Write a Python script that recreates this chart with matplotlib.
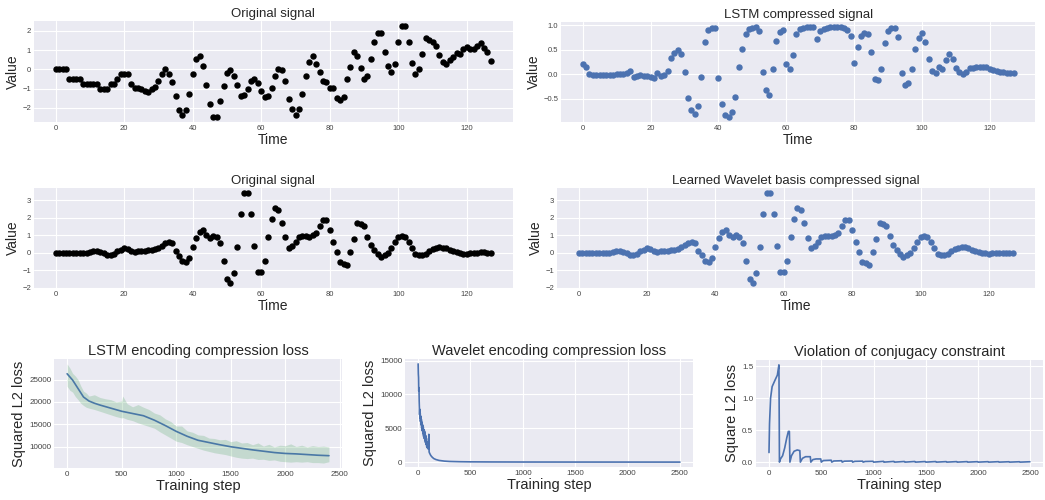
import numpy as np
import matplotlib
matplotlib.use("Agg")
import matplotlib.pyplot as plt

plt.style.use("seaborn-v0_8-darkgrid")
plt.rcParams['font.family'] = ['Liberation Sans', 'DejaVu Sans']

# ---- data ----
time = np.arange(128)

original_1 = [0, 0, 0, 0, -0.5, -0.5, -0.5, -0.5, -0.75, -0.75, -0.75, -0.75, -0.75, -1.0, -1.0, -1.0,
              -0.75, -0.75, -0.5, -0.25, -0.25, -0.25, -0.75, -0.97, -0.97, -1.0, -1.1, -1.2, -1.0, -0.9,
              -0.62, -0.25, 0.0, -0.25, -0.68, -1.38, -2.1, -2.4, -2.1, -1.3, -0.25, 0.55, 0.7, 0.2,
              -0.8, -1.8, -2.5, -2.5, -1.65, -0.85, -0.2, -0.05, -0.35, -0.8, -1.38, -1.35, -1.0, -0.62,
              -0.5, -0.72, -1.15, -1.42, -1.38, -0.95, -0.35, 0.03, -0.05, -0.62, -1.52, -2.08, -2.35,
              -2.08, -1.3, -0.35, 0.38, 0.68, 0.28, -0.12, -0.58, -0.68, -0.98, -0.98, -1.48, -1.6,
              -1.45, -0.48, 0.1, 0.9, 0.68, 0.05, -0.52, -0.32, 0.55, 1.42, 1.92, 1.88, 0.9, 0.18,
              -0.12, 0.28, 1.4, 2.28, 2.28, 1.45, 0.35, -0.22, 0.0, 0.8, 1.62, 1.55, 1.45, 1.22, 0.75,
              0.4, 0.28, 0.5, 0.65, 0.85, 0.78, 1.05, 1.18, 1.08, 1.08, 1.2, 1.35, 1.1, 0.88, 0.42]

lstm_signal = [0.21, 0.15, 0.0, -0.01, -0.01, -0.02, -0.02, -0.01, -0.01, -0.01, 0.0, 0.0, 0.01, 0.02,
               0.06, -0.05, -0.03, -0.02, -0.03, -0.03, -0.05, -0.07, 0.02, -0.03, -0.02, 0.06, 0.32,
               0.44, 0.5, 0.42, 0.04, -0.48, -0.72, -0.8, -0.65, -0.06, 0.65, 0.89, 0.95, 0.95, -0.08,
               -0.6, -0.83, -0.88, -0.76, -0.46, 0.15, 0.52, 0.82, 0.91, 0.94, 0.96, 0.88, 0.04, -0.32,
               -0.42, 0.11, 0.67, 0.86, 0.89, 0.2, 0.1, 0.4, 0.81, 0.93, 0.95, 0.97, 0.97, 0.97, 0.71,
               0.88, 0.93, 0.95, 0.96, 0.96, 0.96, 0.96, 0.95, 0.9, 0.78, 0.22, 0.55, 0.77, 0.84, 0.81,
               0.46, -0.09, -0.11, 0.11, 0.64, 0.88, 0.94, 0.95, 0.75, 0.02, -0.22, -0.18, 0.1, 0.51,
               0.74, 0.83, 0.66, 0.3, 0.07, 0.02, 0.14, 0.1, 0.28, 0.41, 0.3, 0.12, 0.05, 0.0, 0.04,
               0.13, 0.13, 0.14, 0.14, 0.15, 0.14, 0.11, 0.09, 0.07, 0.05, 0.04, 0.03, 0.03, 0.02]

original_2 = [0, 0, 0, 0, 0, 0, 0, 0, 0, 0, 0.05, 0.08, 0.08, 0.05, 0.0, -0.12, -0.15, -0.05, 0.08,
              0.18, 0.28, 0.2, 0.1, 0.05, 0.08, 0.12, 0.12, 0.15, 0.18, 0.22, 0.3, 0.42, 0.55, 0.6, 0.58,
              0.1, -0.18, -0.45, -0.55, -0.28, 0.35, 0.85, 1.22, 1.32, 1.0, 0.85, 0.98, 0.9, 0.58, -0.45,
              -1.5, -1.75, -1.18, 0.35, 2.2, 3.45, 3.45, 2.22, 0.42, -1.08, -1.08, -0.45, 0.88, 1.92,
              2.58, 2.45, 1.7, 0.88, 0.3, 0.42, 0.62, 0.88, 0.98, 0.95, 0.92, 1.02, 1.12, 1.55, 1.88,
              1.88, 1.28, 0.6, 0.05, -0.5, -0.62, -0.68, 0.05, 0.8, 1.68, 1.65, 1.55, 0.92, 0.45, 0.15,
              -0.08, -0.22, -0.1, 0.0, 0.25, 0.6, 0.88, 0.98, 0.92, 0.6, 0.28, -0.05, -0.12, -0.15,
              -0.05, 0.1, 0.22, 0.3, 0.32, 0.3, 0.25, 0.18, 0.12, 0.05, 0.0, -0.05, -0.05, -0.02, 0.0,
              0.02, 0.03, 0.03, 0.02, 0.02]

wavelet_signal = [0, 0.01, 0.01, 0, 0, 0, 0.02, 0.02, 0, 0.02, 0.05, 0.08, 0.1, 0.05, 0.0, -0.12, -0.15,
                  -0.05, 0.08, 0.18, 0.28, 0.2, 0.1, 0.05, 0.1, 0.12, 0.12, 0.15, 0.18, 0.22, 0.32, 0.45,
                  0.55, 0.6, 0.56, 0.1, -0.15, -0.45, -0.52, -0.28, 0.35, 0.85, 1.2, 1.32, 1.0, 0.88, 1.0,
                  0.9, 0.58, -0.45, -1.5, -1.75, -1.18, 0.35, 2.2, 3.45, 3.45, 2.22, 0.42, -1.08, -1.08,
                  -0.45, 0.88, 1.92, 2.58, 2.45, 1.72, 0.86, 0.3, 0.42, 0.62, 0.9, 0.98, 0.98, 0.95, 1.02,
                  1.12, 1.55, 1.88, 1.88, 1.28, 0.62, 0.05, -0.5, -0.6, -0.68, 0.05, 0.8, 1.68, 1.63,
                  1.52, 0.95, 0.45, 0.15, -0.08, -0.25, -0.1, -0.02, 0.25, 0.6, 0.88, 0.98, 0.92, 0.62,
                  0.28, -0.05, -0.1, -0.12, -0.05, 0.08, 0.2, 0.3, 0.32, 0.32, 0.25, 0.15, 0.12, 0.05,
                  0.02, -0.02, -0.05, -0.02, 0.0, 0.02, 0.02, 0.0, 0.02, 0.02]

lstm_loss_steps = [0, 50, 100, 150, 200, 250, 300, 400, 500, 600, 700, 800, 900, 1000, 1100, 1200, 1300,
                   1400, 1500, 1600, 1700, 1800, 1900, 2000, 2100, 2200, 2300, 2400]
lstm_loss_smooth = [26300, 24900, 23000, 21100, 20200, 19700, 19300, 18600, 17900, 17400, 16900, 15900,
                    14700, 13400, 12300, 11400, 10900, 10400, 9950, 9600, 9250, 8950, 8650, 8450, 8350,
                    8200, 8050, 7950]

band_steps = [0, 25, 50, 75, 100, 125, 150, 175, 200, 250, 300, 350, 400, 450, 500, 510, 550, 600, 650,
              700, 750, 800, 850, 900, 950, 1000, 1050, 1100, 1150, 1200, 1250, 1300, 1350, 1400, 1450,
              1500, 1550, 1600, 1650, 1700, 1750, 1800, 1850, 1900, 1950, 2000, 2050, 2100, 2150, 2200,
              2250, 2300, 2350, 2400]
band_upper = [28500, 27600, 26400, 25800, 25000, 23600, 22400, 22000, 21300, 21600, 21000, 20700, 20500,
              20000, 20200, 21300, 19600, 18900, 19400, 18800, 18300, 17500, 17100, 16200, 15600, 14600,
              14600, 13500, 13200, 12600, 12500, 11900, 11800, 11500, 11600, 11100, 11300, 10800, 10900,
              10400, 10800, 10100, 10500, 9900, 10300, 10200, 10600, 10000, 10300, 9900, 10200, 10000,
              10100, 9900]
band_lower = [23500, 22600, 22200, 21200, 20500, 19700, 19200, 18800, 18600, 18300, 17900, 17500, 17100,
              16700, 16400, 16500, 16100, 15800, 15300, 14900, 14500, 14100, 13300, 12600, 11900, 11200,
              10900, 10400, 10000, 9600, 9200, 8900, 8600, 8400, 8200, 7900, 7600, 7400, 7300, 7400,
              7100, 7150, 6900, 7000, 6700, 6600, 6500, 6600, 6500, 6600, 6400, 6400, 6300, 6600]

wavelet_loss_steps = [0, 2, 4, 6, 8, 10, 12, 14, 16, 18, 20, 22, 25, 28, 31, 34, 37, 40, 43, 46, 49, 52,
                      55, 58, 61, 64, 67, 70, 73, 76, 79, 82, 85, 88, 91, 94, 97, 100, 102, 105, 110,
                      120, 130, 140, 150, 170, 200, 250, 300, 400, 500, 700, 1000, 1500, 2000, 2500]
wavelet_loss = [14500, 13000, 12500, 10500, 11000, 9000, 8000, 7000, 7800, 6500, 7200, 6000, 6800, 5500,
                6300, 5000, 5900, 4600, 5500, 4200, 5200, 3800, 4800, 3500, 4600, 3200, 4300, 2900, 3900,
                2600, 3500, 2300, 3000, 2100, 2600, 2000, 2400, 1900, 4100, 1500, 1300, 1000, 800, 650,
                520, 380, 250, 150, 100, 60, 40, 25, 15, 10, 8, 5]

conj_steps = [0, 5, 15, 30, 60, 80, 95, 100, 110, 130, 150, 170, 185, 195, 200, 215, 240, 270, 295, 300,
              320, 350, 395, 400, 420, 450, 495, 500, 520, 595, 600, 620, 695, 700, 720, 795, 800, 820,
              895, 900, 920, 995, 1000, 1095, 1100, 1195, 1200, 1295, 1300, 1395, 1400, 1495, 1500,
              1595, 1600, 1695, 1700, 1795, 1800, 1895, 1900, 1995, 2000, 2095, 2100, 2195, 2200, 2295,
              2300, 2395, 2400, 2495]
conj_loss = [0.15, 0.6, 1.0, 1.18, 1.29, 1.36, 1.52, 0.0, 0.05, 0.1, 0.22, 0.38, 0.48, 0.48, 0.0, 0.1,
             0.17, 0.19, 0.18, 0.0, 0.06, 0.085, 0.085, 0.0, 0.04, 0.05, 0.05, 0.0, 0.025, 0.03, 0.0,
             0.018, 0.022, 0.0, 0.015, 0.018, 0.0, 0.012, 0.015, 0.0, 0.01, 0.013, 0.0, 0.012, 0.0,
             0.011, 0.0, 0.01, 0.0, 0.01, 0.0, 0.009, 0.0, 0.009, 0.0, 0.008, 0.0, 0.008, 0.0, 0.008,
             0.0, 0.007, 0.0, 0.007, 0.0, 0.007, 0.0, 0.006, 0.0, 0.006, 0.0, 0.006]

blue = "#4c72b0"
fig = plt.figure(figsize=(10.45, 5.0), dpi=100)

def signal_panel(rect, values, color, title):
    ax = fig.add_axes(rect)
    ax.plot(time, values, 'o', color=color, markersize=3.6)
    ax.set_title(title, fontsize=9.5, pad=3)
    ax.set_xlabel("Time", fontsize=10, labelpad=1)
    ax.set_ylabel("Value", fontsize=10, labelpad=2)
    ax.tick_params(labelsize=5.5, pad=2, labelcolor="#444444")
    return ax

signal_panel([0.0325, 0.756, 0.458, 0.202], original_1, "black", "Original signal")
signal_panel([0.537, 0.756, 0.4536, 0.2], lstm_signal, blue, "LSTM compressed signal")
signal_panel([0.0325, 0.424, 0.458, 0.2], original_2, "black", "Original signal")
signal_panel([0.533, 0.424, 0.457, 0.2], wavelet_signal, blue, "Learned Wavelet basis compressed signal")

def loss_panel(rect, title, ylabel):
    ax = fig.add_axes(rect)
    ax.set_title(title, fontsize=10.5, pad=3)
    ax.set_xlabel("Training step", fontsize=10.5, labelpad=1)
    ax.set_ylabel(ylabel, fontsize=10.5, labelpad=2)
    ax.tick_params(labelsize=5.8, pad=2, labelcolor="#444444")
    return ax

ax = loss_panel([0.0517, 0.064, 0.2756, 0.218], "LSTM encoding compression loss", "Squared L2 loss")
ax.fill_between(band_steps, band_lower, band_upper, color="#55a868", alpha=0.25, linewidth=0)
ax.plot(lstm_loss_steps, lstm_loss_smooth, color="#4a78a6", linewidth=1.2)
ax.set_yticks([10000, 15000, 20000, 25000])

ax = loss_panel([0.3876, 0.066, 0.2756, 0.216], "Wavelet encoding compression loss", "Squared L2 loss")
ax.plot(wavelet_loss_steps, wavelet_loss, color=blue, linewidth=1.2)

ax = loss_panel([0.7234, 0.066, 0.2746, 0.214], "Violation of conjugacy constraint", "Square L2 loss")
ax.plot(conj_steps, conj_loss, color=blue, linewidth=1.2)
ax.set_yticks([0.0, 0.5, 1.0, 1.5])

fig.savefig("out.png", dpi=100)
